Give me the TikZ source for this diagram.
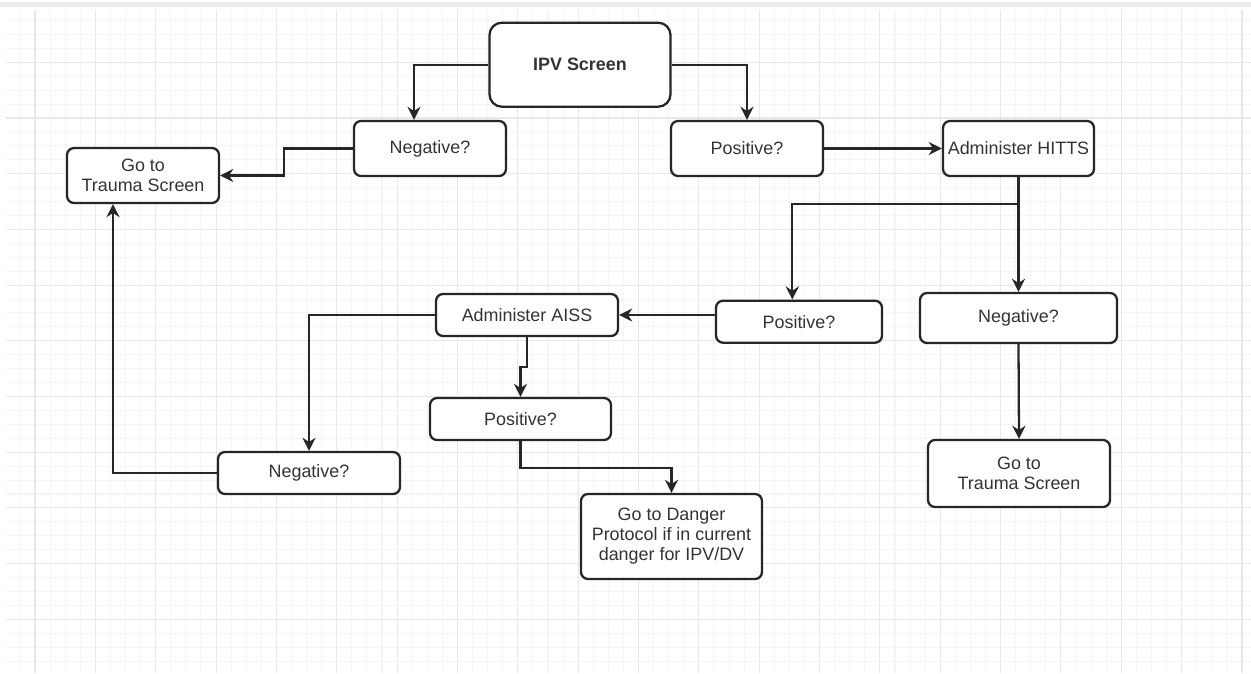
\documentclass[tikz,border=0pt]{standalone}
\usepackage{fontspec}
\setmainfont{Liberation Sans}
\usepackage{tikz}
\usetikzlibrary{arrows.meta,calc}

\begin{document}
\begin{tikzpicture}[
			x=0.02cm, y=-0.02cm,
			every node/.style={font=\fontsize{10.2}{11.4}\selectfont, text=black!80},
			box/.style={draw=black!85, line width=1.3pt, fill=white, rounded corners=4pt, align=center, inner sep=1pt},
			link/.style={draw=black!85, line width=1.3pt, ->},
			major/.style={draw=black!9, line width=0.6pt},
			minor/.style={draw=black!4, line width=0.6pt},
			>={Stealth[length=7.5pt,width=7.5pt,inset=2.5pt]}
			]
			
			% page background and grid
			\fill[white] (0,0) rectangle (1251,673);
			\fill[black!7] (0,2) rectangle (1251,7);
			\begin{scope}
				\clip (6,10) rectangle (1251,673);
				\foreach \i in {-1,...,81} \draw[minor] ({35+15.0875*\i},10) -- ++(0,663);
				\foreach \j in {-3,...,43} \draw[minor] (6,{62.3+13.925*\j}) -- ++(1245,0);
				\foreach \i in {0,...,20} \draw[major] ({35+60.35*\i},10) -- ++(0,663);
				\foreach \j in {0,...,10} \draw[major] (6,{62.3+55.7*\j}) -- ++(1245,0);
			\end{scope}
			
			\node[box, rounded corners=7pt, minimum width=3.62cm, minimum height=1.68cm, font=\fontsize{10.2}{11.4}\selectfont\bfseries] (ipv) at (580,64.7) {IPV Screen};
			\node[box, minimum width=3.04cm, minimum height=1.1cm] (negA) at (430,148.5) {Negative?};
			\node[box, minimum width=3.04cm, minimum height=1.1cm] (posA) at (747,148.5) {Positive?};
			\node[box, minimum width=3.02cm, minimum height=1.1cm] (hitts) at (1018.5,148.5) {Administer HITTS};
			\node[box, minimum width=3.04cm, minimum height=1.1cm] (traumaA) at (143,175.5) {Go to\\Trauma Screen};
			\node[box, minimum width=3.32cm, minimum height=0.84cm] (posB) at (799,321.7) {Positive?};
			\node[box, minimum width=3.94cm, minimum height=1.0cm] (negB) at (1018.5,318) {Negative?};
			\node[box, minimum width=3.64cm, minimum height=0.84cm] (aiss) at (527,315) {Administer AISS};
			\node[box, minimum width=3.62cm, minimum height=0.84cm] (posC) at (520.5,419) {Positive?};
			\node[box, minimum width=3.64cm, minimum height=0.84cm] (negC) at (309,473) {Negative?};
			\node[box, minimum width=3.62cm, minimum height=1.7cm] (danger) at (671.5,536.5) {Go to Danger\\Protocol if in current\\danger for IPV/DV};
			\node[box, minimum width=3.64cm, minimum height=1.34cm] (traumaB) at (1019,473.5) {Go to\\Trauma Screen};
			
			\draw[link] (ipv.west) -| ($(negA.north)+(-16,0)$);
			\draw[link] (ipv.east) -| (posA.north);
			\draw[link] (negA.west) -- ++(-69,0) |- (traumaA.east);
			\draw[link] (posA.east) -- (hitts.west);
			\draw[link] (hitts.south) -- ++(0,27) -| ($(posB.north)+(-6.7,0)$);
			\draw[link] (hitts.south) -- (negB.north);
			\draw[link] (posB.west |- aiss.east) -- (aiss.east);
			\draw[link] (aiss.west) -| (negC.north);
			\draw[link] (aiss.south) -- ++(0,30) -| (posC.north);
			\draw[link] (posC.south) -- ++(0,27) -| (danger.north);
			\draw[link] (negC.west) -| ($(traumaA.south)+(-30,0)$);
			\draw[link] (negB.south) -- (traumaB.north);
		\end{tikzpicture}
\end{document}
